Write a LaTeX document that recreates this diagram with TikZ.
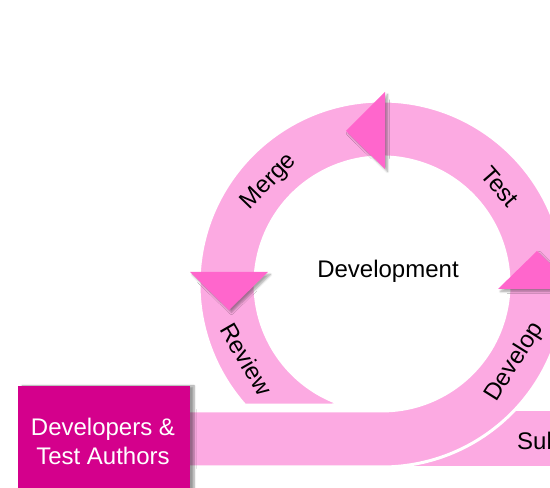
\documentclass[tikz,border=0pt]{standalone}
\usepackage{fontspec}
\setmainfont{Liberation Sans}
\usetikzlibrary{shadows.blur}

\definecolor{ringpink}{RGB}{252,170,226}
\definecolor{arrowpink}{RGB}{255,102,204}
\definecolor{actorbox}{RGB}{212,0,140}

\tikzset{
  ringfill/.style={fill=ringpink},
  turnarrow/.style={fill=arrowpink, blur shadow={shadow xshift=2.5pt, shadow yshift=-2.5pt, shadow blur steps=6, shadow opacity=35}},
  ringlabel/.style={font=\fontsize{24}{24}\selectfont, inner sep=0pt},
  plainlabel/.style={font=\fontsize{24}{24}\selectfont, inner sep=0pt},
}

\begin{document}
\begin{tikzpicture}[x=1pt,y=1pt]
  \useasboundingbox (0,0) rectangle (550,488);
  \clip (0,0) rectangle (550,488);

  % centre of the development loop
  \coordinate (C) at (382,204);

  % outgoing band to the right
  \fill[ringfill] (400,22) rectangle (570,77);

  % spiral: straight tail from the actors, then the loop round
  \path[ringfill, draw=white, line width=3pt]
    (185,21) -- (382,21)
    arc[start angle=-90, end angle=221.4, radius=183]
    -- (343.6,83)
    arc[start angle=252.4, end angle=-90, radius=127]
    -- (185,77) -- cycle;

  % direction arrows on the loop
  \fill[turnarrow] (385,396) -- (385,319) -- (346,357) -- cycle;
  \fill[turnarrow] (190,216) -- (268,216) -- (229,178) -- cycle;
  \fill[turnarrow] (498,199) -- (576,199) -- (537,237) -- cycle;

  % actors
  \fill[actorbox, blur shadow={shadow xshift=4pt, shadow yshift=0pt, shadow blur steps=6, shadow opacity=40}]
    (18,-10) rectangle (190,102);
  \node[plainlabel, text=white, align=center, font=\fontsize{24}{29}\selectfont]
    (actors) at (103,47) {Developers \&\\Test Authors};

  % labels
  \node[plainlabel] (dev) at (388,217) {Development};
  \node[ringlabel, rotate=46]  (merge)   at ([shift={(137.8:152)}]C) {Merge};
  \node[ringlabel, rotate=-49] (test)    at ([shift={(39.6:153)}]C) {Test};
  \node[ringlabel, rotate=-60] (review)  at ([shift={(209:155)}]C) {Review};
  \node[ringlabel, rotate=58]  (develop) at ([shift={(-30.5:154)}]C) {Develop};
  \node[plainlabel, anchor=west] (submit) at (517,47) {Submit};
\end{tikzpicture}
\end{document}
